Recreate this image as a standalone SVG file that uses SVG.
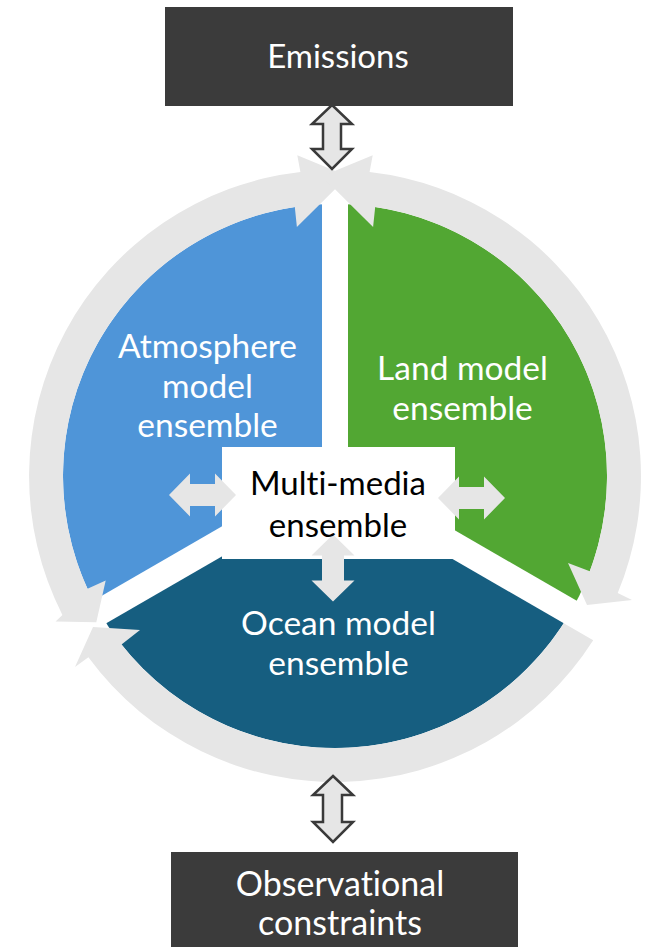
<svg xmlns="http://www.w3.org/2000/svg" xmlns:xlink="http://www.w3.org/1999/xlink" width="649" height="947" viewBox="0 0 649 947">
  <style>
    .box { fill: #3b3b3b; }
    .ring { fill: #e6e6e6; }
    .sep { stroke: #ffffff; stroke-width: 26; stroke-linecap: butt; }
    .dbl { fill: #e6e6e6; stroke: #3a3a3a; stroke-width: 2.5; stroke-linejoin: miter; }
    .small { fill: #e6e6e6; }
    .lbl { font-family: Lato, "Liberation Sans", sans-serif; text-anchor: middle; font-variant-ligatures: none; }
    .w { fill: #ffffff; }
    .k { fill: #000000; }
  </style>
  <defs>
    <path id="harrow" d="M-33.5,0 L-12.5,-21.5 L-12.5,-11 L12.5,-11 L12.5,-21.5 L33.5,0 L12.5,21.5 L12.5,11 L-12.5,11 L-12.5,21.5 Z"/>
  </defs>
  <rect width="649" height="947" fill="#ffffff"/>

  <g id="node-atmosphere">
    <path d="M335,476 L99.4,612 A272,272 0 0 1 335,204 Z" fill="#4f95d8"/>
  </g>
  <g id="node-land">
    <path d="M335,476 L335,204 A272,272 0 0 1 570.6,612 Z" fill="#52a733"/>
  </g>
  <g id="node-ocean">
    <path d="M335,476 L570.6,612 A272,272 0 0 1 99.4,612 Z" fill="#165e80"/>
  </g>

  <g id="separators">
    <line class="sep" x1="335" y1="476" x2="335" y2="150"/>
    <line class="sep" x1="335" y1="476" x2="617" y2="639"/>
    <line class="sep" x1="335" y1="476" x2="53" y2="639"/>
  </g>

  <g id="connectors">
    <path class="ring" d="M96.3,622.3 L55.6,621.4 L62.4,614.9 A306,306 0 0 1 300.4,172 L297.3,155.2 L348.1,176.3 L296.9,226.9 L294.8,207 A272,272 0 0 0 87.5,588.8 L105.7,580.5 Z"/>
    <path class="ring" d="M321.9,176.3 L372.7,155.2 L369.6,172 A306,306 0 0 1 617.7,593.1 L632,600 L587,605 L568,563 L589.8,571.3 A272,272 0 0 0 375.2,207 L373.1,226.9 Z"/>
    <path class="ring" d="M563.8,623.2 L593.2,640.2 A306,306 0 0 1 88.4,657.2 L75,667 L93,627 L140,630 L121.5,644.6 A272,272 0 0 0 563.8,623.2 Z"/>
    <path class="dbl" d="M332,105 L352,124 L341,124 L341,149 L352,149 L332,169 L312,149 L323,149 L323,124 L312,124 Z"/>
    <path class="dbl" d="M333,776 L353,795 L342,795 L342,822 L353,822 L333,842 L313,822 L323,822 L323,795 L313,795 Z"/>
  </g>

  <g id="node-multimedia">
    <rect x="222" y="447" width="233" height="112" fill="#ffffff"/>
  </g>

  <g id="inner-connectors">
    <use xlink:href="#harrow" href="#harrow" class="small" transform="translate(202.5,495)"/>
    <use xlink:href="#harrow" href="#harrow" class="small" transform="translate(471.5,498)"/>
    <use xlink:href="#harrow" href="#harrow" class="small" transform="translate(333,568) rotate(90)"/>
  </g>

  <g id="node-emissions">
    <rect class="box" x="165" y="7" width="348" height="99"/>
    <text class="lbl w" x="338" y="68" font-size="33">Emissions</text>
  </g>
  <g id="node-observations">
    <rect class="box" x="171" y="852" width="347" height="95"/>
    <text class="lbl w" x="340" y="896" font-size="34">Observational</text>
    <text class="lbl w" x="340" y="935" font-size="34">constraints</text>
  </g>

  <g id="labels">
    <text class="lbl w" x="207.5" y="358" font-size="33.5">Atmosphere</text>
    <text class="lbl w" x="207.5" y="398" font-size="33.5">model</text>
    <text class="lbl w" x="207.5" y="437" font-size="33.5">ensemble</text>
    <text class="lbl w" x="462.5" y="380" font-size="33.5">Land model</text>
    <text class="lbl w" x="462.5" y="419.5" font-size="33.5">ensemble</text>
    <text class="lbl w" x="338.5" y="635" font-size="33.5">Ocean model</text>
    <text class="lbl w" x="338.5" y="674.5" font-size="33.5">ensemble</text>
    <text class="lbl k" x="338" y="495" font-size="33">Multi-media</text>
    <text class="lbl k" x="338" y="537" font-size="33">ensemble</text>
  </g>
</svg>
